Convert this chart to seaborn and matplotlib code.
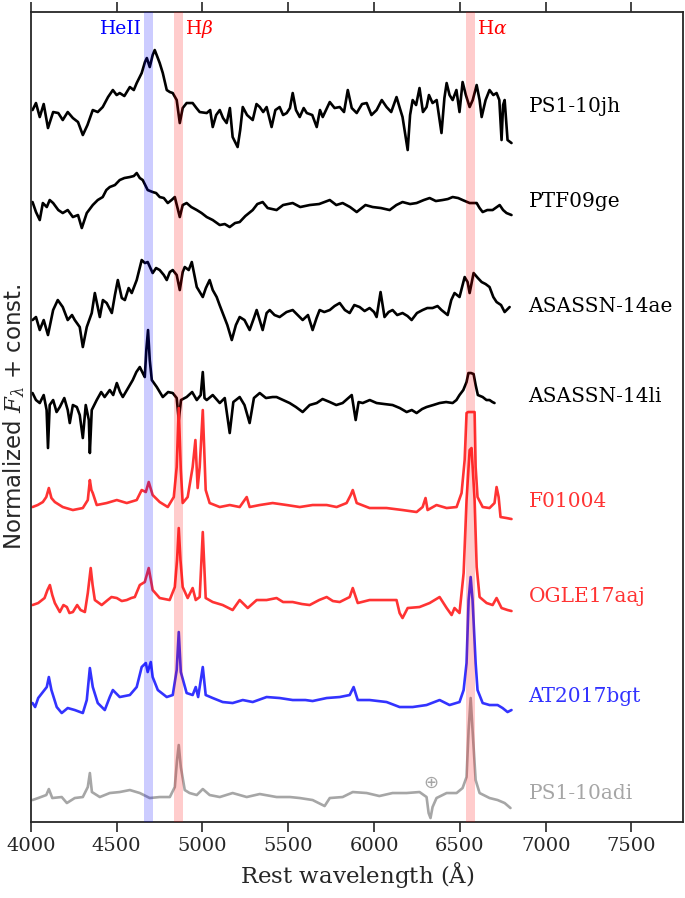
"""
Stacked optical spectra of TDE / AGN-flare candidates with HeII, Hbeta, Halpha marked.
"""

import matplotlib
matplotlib.use('Agg')
import matplotlib.pyplot as plt
import pandas as pd
import seaborn as sns

# ---- data (flux relative to each spectrum's continuum) ----
NAMES = ['PS1-10jh', 'PTF09ge', 'ASASSN-14ae', 'ASASSN-14li',
         'F01004', 'OGLE17aaj', 'AT2017bgt', 'PS1-10adi']
OFFSETS = [7.12, 6.17, 5.12, 4.22, 3.17, 2.22, 1.22, 0.25]
COLORS = ['black', 'black', 'black', 'black',
          '#ff3333', '#ff3333', '#3333ff', '#a6a6a6']

WAVE_PS1_10JH = [4010, 4030, 4052, 4075, 4100, 4130, 4160, 4186, 4215, 4245, 4275, 4303, 4330,
                 4361, 4390, 4419, 4450, 4478, 4500, 4518, 4545, 4577, 4600, 4617, 4646, 4665,
                 4676, 4693, 4710, 4722, 4740, 4751, 4769, 4792, 4810, 4827, 4850, 4868, 4885,
                 4908, 4943, 4965, 4984, 5025, 5045, 5060, 5080, 5101, 5120, 5141, 5160, 5176,
                 5205, 5220, 5235, 5260, 5293, 5315, 5334, 5354, 5374, 5403, 5425, 5450, 5470,
                 5491, 5510, 5526, 5545, 5567, 5590, 5608, 5640, 5666, 5685, 5701, 5742, 5770,
                 5800, 5825, 5847, 5870, 5899, 5930, 5957, 5985, 6015, 6045, 6073, 6100, 6131,
                 6150, 6166, 6196, 6210, 6225, 6245, 6265, 6285, 6306, 6320, 6341, 6365, 6393,
                 6410, 6423, 6440, 6458, 6480, 6498, 6516, 6535, 6557, 6575, 6598, 6615, 6627,
                 6650, 6673, 6695, 6714, 6730, 6743, 6752, 6761, 6778, 6801]
FLUX_PS1_10JH = [0.00, 0.07, -0.07, 0.06, -0.18, -0.02, -0.03, -0.10, -0.02, -0.08, -0.12, -0.25, -0.15,
                 0.00, -0.02, 0.03, 0.13, 0.20, 0.15, 0.17, 0.14, 0.23, 0.20, 0.27, 0.37, 0.48,
                 0.52, 0.43, 0.55, 0.60, 0.52, 0.47, 0.37, 0.20, 0.18, 0.17, 0.10, -0.13, 0.02,
                 0.07, 0.07, 0.02, -0.02, -0.03, 0.00, -0.17, -0.05, 0.00, -0.08, -0.13, 0.02, -0.27,
                 -0.37, -0.20, 0.03, -0.05, -0.10, 0.06, 0.03, -0.02, 0.03, -0.17, 0.00, 0.03, -0.05,
                 -0.03, 0.02, 0.17, 0.00, -0.07, 0.02, -0.03, -0.05, -0.17, 0.00, -0.07, 0.08, 0.02,
                 0.03, -0.02, 0.20, 0.02, -0.03, 0.06, 0.07, -0.05, 0.00, 0.10, 0.03, -0.02, 0.13,
                 0.02, -0.07, -0.40, -0.05, 0.10, 0.05, 0.22, -0.02, 0.03, 0.15, 0.07, 0.10, -0.23,
                 0.12, 0.27, 0.15, 0.10, 0.20, -0.02, 0.28, 0.15, 0.03, 0.10, 0.25, 0.10, -0.07,
                 0.10, 0.20, 0.15, 0.17, 0.10, -0.30, 0.05, 0.10, -0.30, -0.33]

WAVE_PTF09GE = [4010, 4030, 4052, 4070, 4093, 4110, 4130, 4160, 4186, 4215, 4245, 4275, 4297,
                4326, 4361, 4390, 4419, 4440, 4460, 4490, 4518, 4545, 4577, 4600, 4617, 4635,
                4652, 4681, 4710, 4730, 4751, 4775, 4798, 4820, 4839, 4868, 4885, 4908, 4935,
                4967, 4995, 5025, 5060, 5101, 5130, 5159, 5190, 5217, 5250, 5293, 5320, 5351,
                5380, 5432, 5470, 5526, 5570, 5625, 5680, 5742, 5780, 5817, 5860, 5899, 5950,
                5992, 6040, 6091, 6130, 6166, 6210, 6248, 6290, 6324, 6360, 6399, 6430, 6458,
                6490, 6516, 6557, 6598, 6615, 6633, 6660, 6691, 6732, 6752, 6772, 6801]
FLUX_PTF09GE = [0.03, -0.07, -0.15, 0.02, -0.02, 0.05, 0.02, -0.05, -0.08, -0.05, -0.12, -0.10, -0.23,
                -0.08, 0.00, 0.05, 0.08, 0.15, 0.18, 0.20, 0.25, 0.27, 0.28, 0.29, 0.32, 0.27,
                0.25, 0.15, 0.13, 0.12, 0.08, 0.07, 0.02, 0.05, 0.08, -0.12, 0.00, 0.02, -0.02,
                -0.05, -0.08, -0.12, -0.15, -0.20, -0.19, -0.22, -0.18, -0.17, -0.11, -0.05, 0.01, 0.03,
                -0.03, -0.05, 0.00, 0.02, -0.02, 0.00, 0.01, 0.05, 0.00, 0.02, -0.02, -0.07, 0.00,
                -0.02, -0.03, -0.05, 0.00, 0.03, 0.01, 0.02, 0.05, 0.07, 0.04, 0.05, 0.06, 0.08,
                0.07, 0.05, 0.02, 0.02, -0.03, -0.07, -0.05, -0.05, 0.00, -0.05, -0.08, -0.10]

WAVE_ASASSN_14AE = [4010, 4030, 4052, 4075, 4100, 4130, 4157, 4186, 4215, 4240, 4256, 4285, 4303,
                    4326, 4355, 4373, 4402, 4420, 4442, 4472, 4490, 4507, 4530, 4548, 4570, 4588,
                    4617, 4646, 4665, 4681, 4710, 4730, 4751, 4775, 4792, 4810, 4827, 4850, 4868,
                    4885, 4897, 4920, 4938, 4967, 5002, 5020, 5042, 5060, 5083, 5100, 5118, 5145,
                    5171, 5195, 5217, 5245, 5275, 5300, 5316, 5351, 5374, 5392, 5420, 5450, 5490,
                    5526, 5555, 5584, 5615, 5642, 5665, 5683, 5710, 5742, 5770, 5800, 5830, 5858,
                    5885, 5916, 5945, 5974, 6000, 6015, 6038, 6061, 6085, 6108, 6135, 6166, 6195,
                    6219, 6250, 6283, 6310, 6341, 6370, 6393, 6429, 6450, 6469, 6498, 6528, 6545,
                    6557, 6580, 6605, 6627, 6650, 6673, 6695, 6714, 6740, 6761, 6790]
FLUX_ASASSN_14AE = [-0.10, -0.07, -0.20, -0.10, -0.25, 0.00, 0.10, 0.03, -0.10, -0.05, -0.10, -0.17, -0.37,
                    -0.17, -0.03, 0.17, -0.07, 0.10, 0.07, -0.03, 0.15, 0.30, 0.12, 0.10, 0.22, 0.17,
                    0.30, 0.50, 0.47, 0.48, 0.37, 0.42, 0.40, 0.35, 0.30, 0.38, 0.40, 0.35, 0.20,
                    0.38, 0.43, 0.40, 0.48, 0.23, 0.13, 0.22, 0.30, 0.20, 0.13, 0.05, -0.03, -0.15,
                    -0.30, -0.15, -0.07, -0.10, -0.20, -0.08, 0.00, -0.20, -0.03, 0.00, -0.05, -0.07, -0.02,
                    0.00, -0.05, -0.10, -0.05, -0.20, -0.08, 0.00, -0.02, 0.00, 0.04, 0.07, 0.00, -0.03,
                    0.05, 0.03, -0.01, 0.02, -0.02, -0.07, 0.18, -0.07, -0.02, 0.00, -0.05, -0.03, -0.06,
                    -0.10, -0.03, 0.00, 0.02, 0.02, 0.04, 0.00, -0.05, 0.10, 0.17, 0.13, 0.33, 0.28,
                    0.17, 0.37, 0.32, 0.28, 0.26, 0.23, 0.13, 0.08, 0.05, -0.02, 0.03]

WAVE_ASASSN_14LI = [4010, 4030, 4052, 4075, 4092, 4100, 4110, 4130, 4150, 4169, 4195, 4215, 4227,
                    4245, 4268, 4285, 4303, 4320, 4338, 4344, 4355, 4384, 4410, 4430, 4460, 4480,
                    4501, 4520, 4536, 4560, 4594, 4615, 4635, 4655, 4664, 4673, 4683, 4693, 4705,
                    4734, 4769, 4800, 4827, 4850, 4862, 4875, 4908, 4940, 4967, 4990, 5002, 5012,
                    5025, 5060, 5101, 5130, 5159, 5180, 5217, 5245, 5275, 5300, 5334, 5370, 5409,
                    5432, 5470, 5508, 5545, 5584, 5625, 5666, 5700, 5742, 5780, 5817, 5870, 5893,
                    5910, 5934, 5975, 6015, 6060, 6108, 6150, 6190, 6220, 6248, 6280, 6306, 6345,
                    6382, 6420, 6458, 6480, 6498, 6520, 6539, 6550, 6565, 6580, 6592, 6605, 6633,
                    6655, 6673, 6690, 6702]
FLUX_ASASSN_14LI = [0.07, 0.00, -0.03, 0.05, -0.10, -0.48, -0.05, 0.00, -0.12, -0.07, 0.02, -0.10, -0.23,
                    -0.05, -0.07, -0.15, -0.38, -0.05, -0.20, -0.53, -0.10, 0.00, 0.08, 0.03, 0.10, 0.05,
                    0.17, 0.08, 0.03, 0.10, 0.20, 0.28, 0.33, 0.26, 0.23, 0.50, 0.70, 0.40, 0.20,
                    0.13, 0.03, 0.08, 0.07, 0.02, -0.20, 0.00, 0.03, 0.08, 0.00, 0.05, 0.28, 0.02,
                    0.00, 0.05, -0.03, 0.02, -0.33, -0.02, 0.03, -0.05, -0.23, 0.02, 0.07, 0.02, 0.03,
                    0.03, 0.00, -0.03, -0.07, -0.12, -0.05, -0.03, 0.01, -0.02, -0.05, -0.03, 0.05, -0.20,
                    -0.02, -0.03, 0.00, -0.03, -0.04, -0.05, -0.08, -0.12, -0.10, -0.13, -0.09, -0.07, -0.05,
                    -0.03, -0.02, -0.03, 0.00, 0.05, 0.10, 0.18, 0.27, 0.27, 0.26, 0.15, 0.05, 0.03,
                    0.00, 0.00, -0.02, -0.03]

WAVE_F01004 = [4010, 4040, 4070, 4090, 4105, 4120, 4140, 4186, 4245, 4303, 4332, 4344, 4353,
               4361, 4384, 4442, 4501, 4559, 4617, 4646, 4670, 4687, 4710, 4751, 4798, 4833,
               4850, 4862, 4874, 4885, 4914, 4943, 4959, 4972, 4984, 5002, 5019, 5042, 5101,
               5159, 5217, 5258, 5275, 5334, 5409, 5491, 5567, 5642, 5724, 5782, 5840, 5864,
               5876, 5899, 5974, 6073, 6166, 6248, 6283, 6300, 6312, 6364, 6423, 6481, 6510,
               6528, 6539, 6548, 6586, 6592, 6603, 6633, 6673, 6702, 6714, 6726, 6737, 6772,
               6801]
FLUX_F01004 = [-0.02, 0.00, 0.03, 0.08, 0.17, 0.07, 0.03, -0.02, -0.05, -0.03, 0.05, 0.25, 0.15,
               0.12, 0.00, 0.02, 0.05, 0.02, 0.05, 0.15, 0.13, 0.23, 0.10, 0.03, -0.02, 0.08,
               0.38, 0.97, 0.35, 0.02, 0.08, 0.38, 0.65, 0.17, 0.38, 0.95, 0.15, 0.02, -0.02,
               0.00, -0.02, 0.08, -0.02, 0.00, 0.02, 0.00, -0.02, 0.00, 0.00, -0.02, 0.02, 0.10,
               0.15, 0.02, -0.03, -0.03, -0.05, -0.07, -0.02, 0.07, -0.05, 0.00, -0.03, -0.02, 0.12,
               0.45, 0.92, 0.93, 0.93, 0.38, 0.08, -0.02, -0.03, 0.02, 0.18, 0.08, -0.12, -0.13,
               -0.14]

WAVE_OGLE17AAJ = [4010, 4043, 4080, 4097, 4111, 4125, 4140, 4169, 4190, 4210, 4225, 4245, 4270,
                  4290, 4315, 4332, 4349, 4360, 4373, 4413, 4448, 4470, 4501, 4530, 4559, 4585,
                  4606, 4635, 4664, 4687, 4710, 4751, 4809, 4839, 4852, 4862, 4872, 4885, 4914,
                  4943, 4961, 4984, 5002, 5019, 5060, 5118, 5176, 5217, 5264, 5316, 5374, 5432,
                  5470, 5526, 5580, 5625, 5680, 5724, 5760, 5800, 5858, 5876, 5905, 5974, 6050,
                  6131, 6149, 6166, 6196, 6265, 6324, 6382, 6423, 6452, 6469, 6498, 6522, 6539,
                  6557, 6568, 6586, 6598, 6615, 6656, 6691, 6714, 6743, 6778, 6801]
FLUX_OGLE17AAJ = [-0.05, -0.03, 0.02, 0.10, 0.15, 0.05, -0.03, -0.12, -0.05, -0.07, -0.13, -0.12, -0.05,
                  -0.10, -0.12, 0.07, 0.32, 0.15, 0.00, -0.05, 0.00, 0.03, 0.02, -0.01, 0.00, 0.02,
                  0.03, 0.15, 0.18, 0.32, 0.10, 0.02, 0.00, 0.13, 0.40, 0.72, 0.40, 0.13, 0.02,
                  0.12, 0.00, 0.03, 0.68, 0.02, -0.02, -0.05, -0.10, 0.00, -0.08, 0.00, 0.00, 0.02,
                  -0.02, -0.02, -0.04, -0.05, 0.00, 0.03, -0.01, -0.02, 0.03, 0.12, -0.03, 0.00, 0.00,
                  0.00, -0.13, -0.18, -0.08, -0.07, -0.03, 0.03, -0.08, -0.15, -0.08, -0.13, 0.27, 1.00,
                  1.50, 1.52, 1.00, 0.33, 0.03, -0.03, -0.05, 0.02, -0.08, -0.10, -0.11]

WAVE_AT2017BGT = [4010, 4025, 4043, 4093, 4105, 4120, 4151, 4180, 4215, 4256, 4303, 4326, 4344,
                  4361, 4390, 4431, 4460, 4478, 4518, 4577, 4617, 4646, 4670, 4681, 4699, 4710,
                  4740, 4792, 4827, 4850, 4862, 4874, 4908, 4943, 4961, 4975, 5002, 5019, 5060,
                  5118, 5176, 5235, 5293, 5374, 5450, 5526, 5600, 5642, 5724, 5800, 5858, 5881,
                  5905, 5974, 6073, 6149, 6225, 6306, 6382, 6440, 6498, 6522, 6539, 6551, 6563,
                  6574, 6592, 6603, 6633, 6673, 6720, 6749, 6778, 6801]
FLUX_AT2017BGT = [-0.03, -0.07, 0.02, 0.13, 0.23, 0.10, -0.07, -0.13, -0.08, -0.10, -0.13, 0.00, 0.32,
                  0.13, -0.03, -0.10, 0.03, 0.10, 0.03, 0.05, 0.13, 0.33, 0.37, 0.28, 0.38, 0.23,
                  0.10, 0.03, 0.05, 0.30, 0.68, 0.28, 0.07, 0.05, 0.13, 0.03, 0.33, 0.05, 0.02,
                  -0.02, -0.03, 0.00, -0.02, 0.03, 0.02, 0.00, 0.00, -0.01, 0.02, 0.03, 0.05, 0.13,
                  0.00, 0.00, -0.02, -0.07, -0.07, -0.05, 0.00, -0.05, -0.02, 0.10, 0.37, 1.00, 1.23,
                  1.00, 0.37, 0.10, -0.03, -0.05, -0.05, -0.08, -0.12, -0.10]

WAVE_PS1_10ADI = [4010, 4043, 4090, 4105, 4125, 4180, 4210, 4256, 4303, 4332, 4344, 4356, 4402,
                  4460, 4518, 4577, 4635, 4693, 4751, 4810, 4839, 4852, 4862, 4874, 4897, 4925,
                  4967, 5002, 5042, 5101, 5176, 5258, 5334, 5432, 5510, 5567, 5642, 5712, 5742,
                  5817, 5876, 5957, 6031, 6108, 6190, 6265, 6306, 6318, 6329, 6341, 6364, 6423,
                  6481, 6516, 6539, 6551, 6563, 6574, 6592, 6615, 6673, 6720, 6761, 6795]
FLUX_PS1_10ADI = [-0.03, -0.01, 0.02, 0.08, -0.01, 0.00, -0.06, -0.01, 0.00, 0.10, 0.24, 0.05, 0.00,
                  0.04, 0.05, 0.07, 0.04, -0.01, 0.00, 0.00, 0.10, 0.37, 0.52, 0.30, 0.07, 0.04,
                  0.02, 0.08, 0.02, 0.00, 0.04, 0.00, 0.03, 0.00, 0.00, -0.01, -0.03, -0.09, -0.01,
                  0.00, 0.05, 0.04, 0.01, 0.04, 0.04, 0.05, 0.00, -0.16, -0.21, -0.10, -0.01, 0.04,
                  0.04, 0.09, 0.20, 0.67, 0.99, 0.67, 0.17, 0.04, -0.01, -0.03, -0.06, -0.11]

SPECTRA = [
    (WAVE_PS1_10JH, FLUX_PS1_10JH),
    (WAVE_PTF09GE, FLUX_PTF09GE),
    (WAVE_ASASSN_14AE, FLUX_ASASSN_14AE),
    (WAVE_ASASSN_14LI, FLUX_ASASSN_14LI),
    (WAVE_F01004, FLUX_F01004),
    (WAVE_OGLE17AAJ, FLUX_OGLE17AAJ),
    (WAVE_AT2017BGT, FLUX_AT2017BGT),
    (WAVE_PS1_10ADI, FLUX_PS1_10ADI),
]

# emission lines marked with shaded bands
LINE_NAMES = ['HeII', r'H$\beta$', r'H$\alpha$']
LINE_WAVES = [4686, 4861, 6563]
LINE_COLORS = ['blue', 'red', 'red']
TELLURIC_WAVE = 6329


def main():
    sns.set_style('ticks')
    plt.rcParams['font.family'] = ['DejaVu Serif', 'DejaVu Sans']
    plt.rcParams['mathtext.fontset'] = 'dejavuserif'

    fig = plt.figure(figsize=(6.85, 8.98), dpi=100)
    ax = fig.add_axes([0.045, 0.0846, 0.952, 0.902])

    for name, offset, color, (wave, flux) in zip(NAMES, OFFSETS, COLORS, SPECTRA):
        df = pd.DataFrame({'wave': wave, 'flux': [f + offset for f in flux]})
        sns.lineplot(data=df, x='wave', y='flux', ax=ax, color=color, lw=1.9,
                     estimator=None, sort=False, zorder=2)
        ax.text(6900, offset + 0.04, name, color=color, fontsize=14.5,
                ha='left', va='center')

    for lname, lwave, lcolor in zip(LINE_NAMES, LINE_WAVES, LINE_COLORS):
        ax.axvspan(lwave - 25, lwave + 25, color=lcolor, alpha=0.2, lw=0, zorder=3)
        if lname == 'HeII':
            ax.text(lwave - 40, 7.93, lname, color=lcolor, fontsize=13.5,
                    ha='right', va='center')
        else:
            ax.text(lwave + 35, 7.93, lname, color=lcolor, fontsize=13.5,
                    ha='left', va='center')

    ax.text(TELLURIC_WAVE, OFFSETS[-1] + 0.14, '\u2295', color='#a6a6a6',
            fontsize=13, ha='center', va='center', family='DejaVu Sans')

    ax.set_xlim(4000, 7800)
    ax.set_ylim(0, 8.10)
    ax.set_xticks([4000, 4500, 5000, 5500, 6000, 6500, 7000, 7500])
    ax.set_yticks([])
    ax.tick_params(axis='x', which='both', top=True, bottom=True, direction='out',
                   length=7, width=1.2, labelsize=14)
    for spine in ax.spines.values():
        spine.set_linewidth(1.3)
        spine.set_visible(True)

    ax.set_xlabel(r'Rest wavelength ($\mathrm{\AA}$)', fontsize=16.5)
    ax.set_ylabel(r'Normalized $F_\lambda$ + const.', fontsize=16.5, family='DejaVu Sans',
                  labelpad=3)

    fig.savefig('out.png', dpi=100)
    plt.close(fig)


if __name__ == '__main__':
    main()
